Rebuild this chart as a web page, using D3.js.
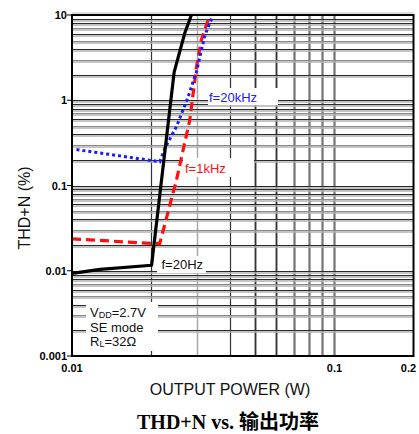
<!DOCTYPE html>
<html><head><meta charset="utf-8">
<script src="https://cdn.jsdelivr.net/npm/d3@7"></script>
<style>
html,body{margin:0;padding:0;background:#fff;}
svg{display:block;}
text{font-family:"Liberation Sans",Arial,sans-serif;}
</style></head>
<body>
<svg id="c" width="419" height="434"></svg>
<script>
// ---- data ----
const xTicks = [0.01, 0.1, 0.2];
const xTickLabels = ["0.01", "0.1", "0.2"];
const yTicks = [0.001, 0.01, 0.1, 1, 10];
const yTickLabels = ["0.001", "0.01", "0.1", "1", "10"];

const x20Hz = [0.01, 0.0128, 0.0201, 0.0245, 0.0269, 0.0285];
const y20Hz = [0.0093, 0.0104, 0.0116, 2.14, 6.15, 10];

const x1kHz = [0.01, 0.0201, 0.0216, 0.025, 0.0281, 0.0298, 0.0311, 0.0335];
const y1kHz = [0.0237, 0.0209, 0.0209, 0.1157, 0.586, 2.45, 5.09, 10];

const x20kHz = [0.0104, 0.0216, 0.0226, 0.025, 0.0277, 0.0298, 0.0321, 0.0343];
const y20kHz = [0.264, 0.190, 0.275, 0.489, 1.10, 2.16, 5.83, 9.55];

const seriesNames = ["f=20Hz", "f=1kHz", "f=20kHz"];
const condLines = ["=2.7V", "SE mode", "=32Ω"];

// ---- layout ----
const svg = d3.select("#c");
const L = 72, R = 413.5, T = 15, B = 356;
const x = d3.scaleLog().domain([0.01, 0.2]).range([L, R]);
const y = d3.scaleLog().domain([0.001, 10]).range([B, T]);

const grid = svg.append("g");
// vertical grid lines
const vMinor = [0.02,0.03,0.04,0.05,0.06,0.07,0.08,0.09,0.1];
vMinor.forEach(v => {
  const px = Math.round(x(v)) + 0.5;
  const grayOnly = (v === 0.03);
  grid.append("line").attr("x1", px).attr("x2", px).attr("y1", T).attr("y2", B)
    .attr("stroke", "#a8a8a8").attr("stroke-width", v >= 0.05 ? 3 : 1.5);
  if (!grayOnly)
    grid.append("line").attr("x1", px).attr("x2", px).attr("y1", T).attr("y2", B)
      .attr("stroke", v >= 0.07 ? "#777" : "#333").attr("stroke-width", 1);
});
// horizontal grid lines
const hVals = [];
[0.001, 0.01, 0.1, 1].forEach(d => { for (let m = 1; m <= 9; m++) { if (d * m > 0.001) hVals.push([d * m, m]); } });
hVals.forEach(([v, m]) => {
  const py = Math.round(y(v)) + 0.5;
  grid.append("line").attr("x1", L).attr("x2", R).attr("y1", py + 1.5).attr("y2", py + 1.5)
    .attr("stroke", "#b0b0b0").attr("stroke-width", 1.5);
  const dark = (m === 1 || m === 2 || m === 4 || m === 8 || m === 9 || m === 6);
  grid.append("line").attr("x1", L).attr("x2", R).attr("y1", py).attr("y2", py)
    .attr("stroke", dark ? "#2a2a2a" : "#8a8a8a").attr("stroke-width", 1);
});

// white label boxes
const boxes = [[208, 88, 70, 17], [183, 158, 71, 19], [157, 256, 49, 17], [86, 302, 72, 49]];
boxes.forEach(b => svg.append("rect").attr("x", b[0]).attr("y", b[1]).attr("width", b[2]).attr("height", b[3]).attr("fill", "#fff"));
// small tick piece of 0.02 under condition box
svg.append("line").attr("x1", Math.round(x(0.02)) + 0.5).attr("x2", Math.round(x(0.02)) + 0.5)
  .attr("y1", B - 4).attr("y2", B).attr("stroke", "#333");

// curves
const line = d3.line().x(d => x(d[0])).y(d => y(d[1]));
const clip = svg.append("clipPath").attr("id", "pc").append("rect").attr("x", L).attr("y", T - 1).attr("width", R - L).attr("height", B - T + 1);
const curves = svg.append("g").attr("clip-path", "url(#pc)");
curves.append("path").datum(x1kHz.map((v, i) => [v, y1kHz[i]])).attr("d", line)
  .attr("fill", "none").attr("stroke", "#ff1010").attr("stroke-width", 3.2).attr("stroke-dasharray", "9,5");
curves.append("path").datum(x20kHz.map((v, i) => [v, y20kHz[i]])).attr("d", line)
  .attr("fill", "none").attr("stroke", "#1a1aff").attr("stroke-width", 3).attr("stroke-dasharray", "3,3");
curves.append("path").datum(x20Hz.map((v, i) => [v, y20Hz[i]])).attr("d", line)
  .attr("fill", "none").attr("stroke", "#000").attr("stroke-width", 3.2).attr("stroke-linejoin", "round");

// frame
svg.append("line").attr("x1", L).attr("x2", R).attr("y1", T - 2).attr("y2", T - 2).attr("stroke", "#bbb").attr("stroke-width", 1);
svg.append("rect").attr("x", L).attr("y", T).attr("width", R - L).attr("height", B - T)
  .attr("fill", "none").attr("stroke", "#000").attr("stroke-width", 2);

// y ticks
yTicks.forEach((v, i) => {
  svg.append("line").attr("x1", L - 5).attr("x2", L).attr("y1", y(v)).attr("y2", y(v)).attr("stroke", "#000").attr("stroke-width", 1);
  svg.append("text").attr("x", L - 5).attr("y", y(v) + 4).attr("text-anchor", "end")
    .attr("font-size", 11).attr("font-weight", "bold").text(yTickLabels[i]);
});
// x ticks
xTicks.forEach((v, i) => {
  svg.append("text").attr("x", i === 2 ? x(v) - 5 : x(v)).attr("y", 372).attr("text-anchor", "middle")
    .attr("font-size", 11).attr("font-weight", "bold").text(xTickLabels[i]);
});

// series labels
svg.append("text").attr("x", 209).attr("y", 101.5).attr("font-size", 13).attr("fill", "#2020ff").text(seriesNames[2]);
svg.append("text").attr("x", 185).attr("y", 173).attr("font-size", 13).attr("fill", "#ff1010").text(seriesNames[1]);
svg.append("text").attr("x", 161.5).attr("y", 269).attr("font-size", 13).attr("fill", "#111").text(seriesNames[0]);

// condition box text
const t1 = svg.append("text").attr("x", 90).attr("y", 317).attr("font-size", 13).attr("fill", "#111");
t1.append("tspan").text("V");
t1.append("tspan").attr("font-size", 9).attr("dy", 1).text("DD");
t1.append("tspan").attr("dy", -1).text(condLines[0]);
svg.append("text").attr("x", 90).attr("y", 332).attr("font-size", 13).attr("fill", "#111").text(condLines[1]);
const t3 = svg.append("text").attr("x", 90).attr("y", 345.5).attr("font-size", 13).attr("fill", "#111");
t3.append("tspan").text("R");
t3.append("tspan").attr("font-size", 9).attr("dy", 1).text("L");
t3.append("tspan").attr("dy", -1).text(condLines[2]);

// axis titles
svg.append("text").attr("x", 230).attr("y", 395).attr("text-anchor", "middle").attr("font-size", 16).attr("fill", "#111").text("OUTPUT POWER (W)");
svg.append("text").attr("transform", "translate(30,208) rotate(-90)").attr("text-anchor", "middle").attr("font-size", 16).attr("fill", "#111").text("THD+N (%)");

// chart title
const tt = svg.append("text").attr("x", 228).attr("y", 429).attr("text-anchor", "middle").attr("font-size", 20).attr("font-weight", "bold").attr("fill", "#000");
tt.append("tspan").attr("font-family", "'Liberation Serif','Times New Roman',serif").text("THD+N vs.  ");
tt.append("tspan").attr("font-family", "'Noto Sans CJK SC',sans-serif").text("输出功率");
</script>
</body></html>
